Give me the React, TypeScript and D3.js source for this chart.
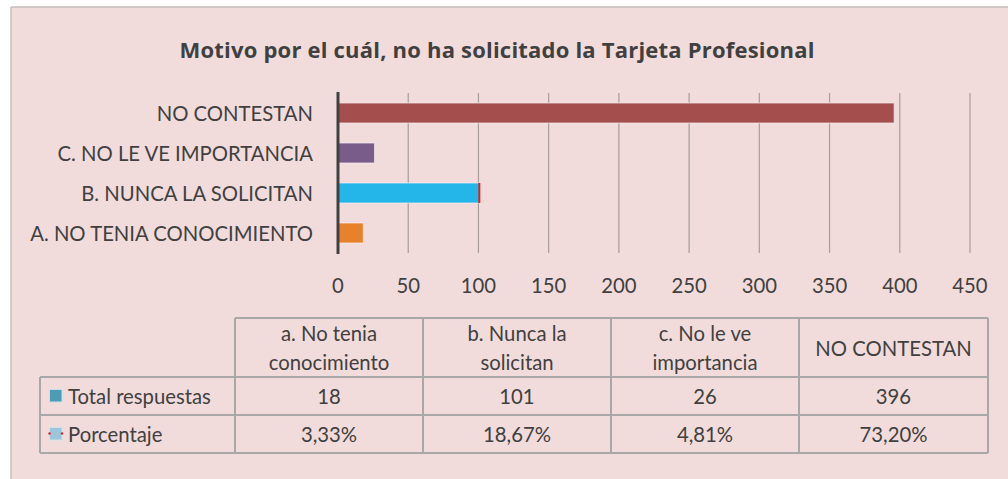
import React from "react";
import * as d3 from "d3";

const barCategories = ["NO CONTESTAN", "C. NO LE VE IMPORTANCIA", "B. NUNCA LA SOLICITAN", "A. NO TENIA CONOCIMIENTO"];
const barValues = [396, 26, 101, 18];
const barColors = ["#a44f4e", "#7a5c8b", "#24b5e9", "#e8812c"];
const xTicks = [0, 50, 100, 150, 200, 250, 300, 350, 400, 450];

const tableHeaders = [["a. No tenia", "conocimiento"], ["b. Nunca la", "solicitan"], ["c. No le ve", "importancia"], ["NO CONTESTAN"]];
const totalRespuestas = [18, 101, 26, 396];
const porcentaje = ["3,33%", "18,67%", "4,81%", "73,20%"];
const rowLabels = ["Total respuestas", "Porcentaje"];

const FONT = "Lato, 'Open Sans', sans-serif";
const TXT = "#404040";
const GRID = "#a8a8a8";
const FS = 20.3;

export default function App() {
  const x = d3.scaleLinear().domain([0, 450]).range([338, 970]);
  const y = d3.scaleBand<string>().domain(barCategories).range([93, 253]).paddingInner(0.5).paddingOuter(0.25);

  const colX = [235, 423, 611, 799, 988];
  const legendLeft = 40;
  const rowY = [318, 377, 415, 453];

  return (
    <svg width={1008} height={479} style={{ position: "absolute", left: 0, top: 0 }} fontFamily={FONT}>
      <rect x={0} y={0} width={1008} height={479} fill="#ffffff" />
      <rect x={11} y={7} width={1000} height={480} fill="#f2dcdb" />
      <line x1={11} y1={7} x2={1008} y2={7} stroke="#c4bcbc" strokeWidth={1.5} />
      <line x1={11} y1={7} x2={11} y2={479} stroke="#c4bcbc" strokeWidth={1.5} />

      <text
        x={497}
        y={49}
        textAnchor="middle"
        dominantBaseline="central"
        fontWeight="bold"
        fontSize={22}
        fill={TXT}
        fontFamily="'Open Sans', Lato, sans-serif"
        textLength={635}
        lengthAdjust="spacing"
      >
        Motivo por el cuál, no ha solicitado la Tarjeta Profesional
      </text>

      {xTicks.slice(1).map((t) => (
        <line key={t} x1={x(t)} x2={x(t)} y1={93} y2={253} stroke="#a89c9c" strokeWidth={1.2} />
      ))}
      {xTicks.map((t) => (
        <text key={t} x={x(t)} y={285} textAnchor="middle" dominantBaseline="central" fontSize={FS} fill={TXT}>
          {t}
        </text>
      ))}

      {barCategories.map((c, i) => (
        <g key={c}>
          <rect
            x={x(0)}
            y={y(c)!}
            width={x(barValues[i]) - x(0)}
            height={y.bandwidth()}
            fill={barColors[i]}
            stroke="#f4eef4"
            strokeOpacity={0.7}
            strokeWidth={1}
          />
          <text x={313} y={y(c)! + y.bandwidth() / 2} textAnchor="end" dominantBaseline="central" fontSize={FS} fill={TXT}>
            {c}
          </text>
        </g>
      ))}
      <rect x={x(101) - 1.5} y={y("B. NUNCA LA SOLICITAN")!} width={2} height={y.bandwidth()} fill="#e02020" />
      <line x1={x(0)} x2={x(0)} y1={92} y2={254} stroke="#404040" strokeWidth={3} />

      {/* table */}
      <g stroke={GRID} strokeWidth={2} fill="none">
        <line x1={colX[0]} x2={colX[4]} y1={rowY[0]} y2={rowY[0]} />
        {rowY.slice(1).map((ry) => (
          <line key={ry} x1={legendLeft} x2={colX[4]} y1={ry} y2={ry} />
        ))}
        {colX.map((cx) => (
          <line key={cx} x1={cx} x2={cx} y1={rowY[0]} y2={rowY[3]} />
        ))}
        <line x1={legendLeft} x2={legendLeft} y1={rowY[1]} y2={rowY[3]} />
      </g>

      {tableHeaders.map((lines, i) => {
        const cx = (colX[i] + colX[i + 1]) / 2;
        const cy = (rowY[0] + rowY[1]) / 2;
        return (
          <text key={i} x={cx} textAnchor="middle" fontSize={FS} fill={TXT}>
            {lines.map((l, j) => (
              <tspan key={j} x={cx} y={cy + (j - (lines.length - 1) / 2) * 28.5} dominantBaseline="central">
                {l}
              </tspan>
            ))}
          </text>
        );
      })}
      {totalRespuestas.map((v, i) => (
        <text key={i} x={(colX[i] + colX[i + 1]) / 2} y={(rowY[1] + rowY[2]) / 2} textAnchor="middle" dominantBaseline="central" fontSize={FS} fill={TXT}>
          {v}
        </text>
      ))}
      {porcentaje.map((v, i) => (
        <text key={i} x={(colX[i] + colX[i + 1]) / 2} y={(rowY[2] + rowY[3]) / 2} textAnchor="middle" dominantBaseline="central" fontSize={FS} fill={TXT}>
          {v}
        </text>
      ))}

      {/* legend keys */}
      <rect x={49.5} y={389.5} width={12.5} height={12.5} fill="#4a9db4" stroke="#c9e0e8" strokeWidth={1} />
      <rect x={49.5} y={427.5} width={12.5} height={12.5} fill="#9cc6dc" stroke="#cfe2ec" strokeWidth={1} />
      <circle cx={49.5} cy={433.5} r={1.2} fill="#e02020" />
      <circle cx={62} cy={433.5} r={1.2} fill="#e02020" />
      {rowLabels.map((l, i) => (
        <text key={l} x={68} y={(rowY[i + 1] + rowY[i + 2]) / 2} dominantBaseline="central" fontSize={FS} fill={TXT}>
          {l}
        </text>
      ))}
    </svg>
  );
}
